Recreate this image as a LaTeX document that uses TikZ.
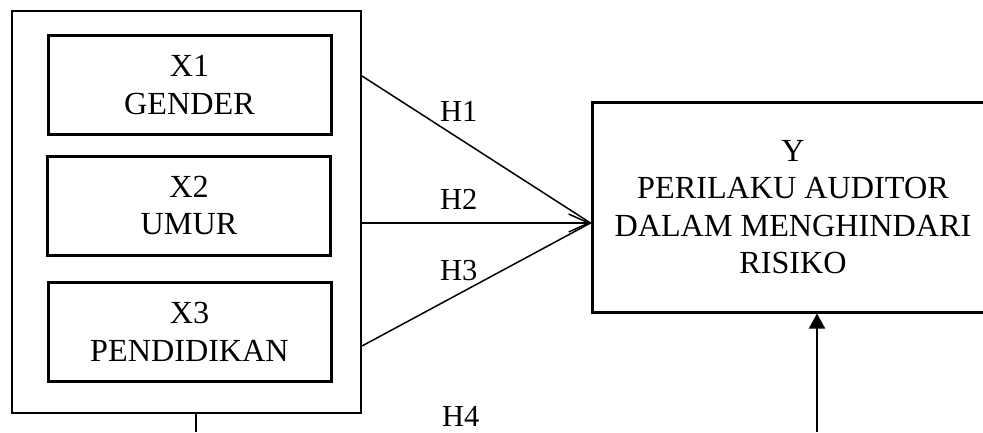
\documentclass[tikz,border=0pt]{standalone}
\usepackage{fontspec}
\setmainfont{Liberation Serif}
\usetikzlibrary{arrows.meta,calc}
\begin{document}
\begin{tikzpicture}[x=1pt,y=-1pt,
  txt/.style={font=\fontsize{32.2}{37.5}\selectfont},
  varbox/.style={draw,line width=3pt,minimum width=283pt,minimum height=99pt,
    inner sep=0pt,align=center,txt},
  frame/.style={draw,line width=2pt,minimum width=349pt,minimum height=402pt,inner sep=0pt},
  hyp/.style={anchor=base west,font=\fontsize{30.5}{36}\selectfont,inner sep=0pt},
  link/.style={line width=1.5pt},
  barb/.style={-{Straight Barb[length=20pt,width=18pt,line width=1.5pt]}}]
\useasboundingbox (0,0) rectangle (983,432);

% independent variables inside the grouping frame
\node[frame] (outer) at (186.5,212) {};
\node[varbox] (x1) at (189.5,85) {X1\\GENDER};
\node[varbox] (x2) at (189,205.5) {X2\\UMUR};
\node[varbox] (x3) at (189.5,332) {X3\\PENDIDIKAN};

% dependent variable
\node[draw,line width=3pt,minimum width=402pt,minimum height=210pt,inner sep=0pt,
  align=center,txt] (y) at (793,207)
  {Y\\PERILAKU AUDITOR\\DALAM MENGHINDARI\\RISIKO};

% hypothesis paths
\coordinate (yin) at ([yshift=-16pt]y.west);
\coordinate (o1) at (outer.east |- 0,76);
\coordinate (o2) at (outer.east |- 0,223);
\coordinate (o3) at (outer.east |- 0,346);
\draw[link] (o1) -- (yin);
\draw[link,barb] (o2) -- (yin);
\draw[link] (o3) -- (yin);

\node[hyp] (h1) at (440,121) {H1};
\node[hyp] (h2) at (440,209) {H2};
\node[hyp] (h3) at (440,280) {H3};
\node[hyp] (h4) at (442,426) {H4};

% simultaneous path H4 running below
\coordinate (lb) at (196,432);
\coordinate (rb) at (817,432);
\draw[line width=2pt] (lb |- outer.south) -- (lb);
\draw[line width=2pt,-{Triangle[length=15pt,width=16pt]}] (rb) -- (rb |- y.south);
\end{tikzpicture}
\end{document}
